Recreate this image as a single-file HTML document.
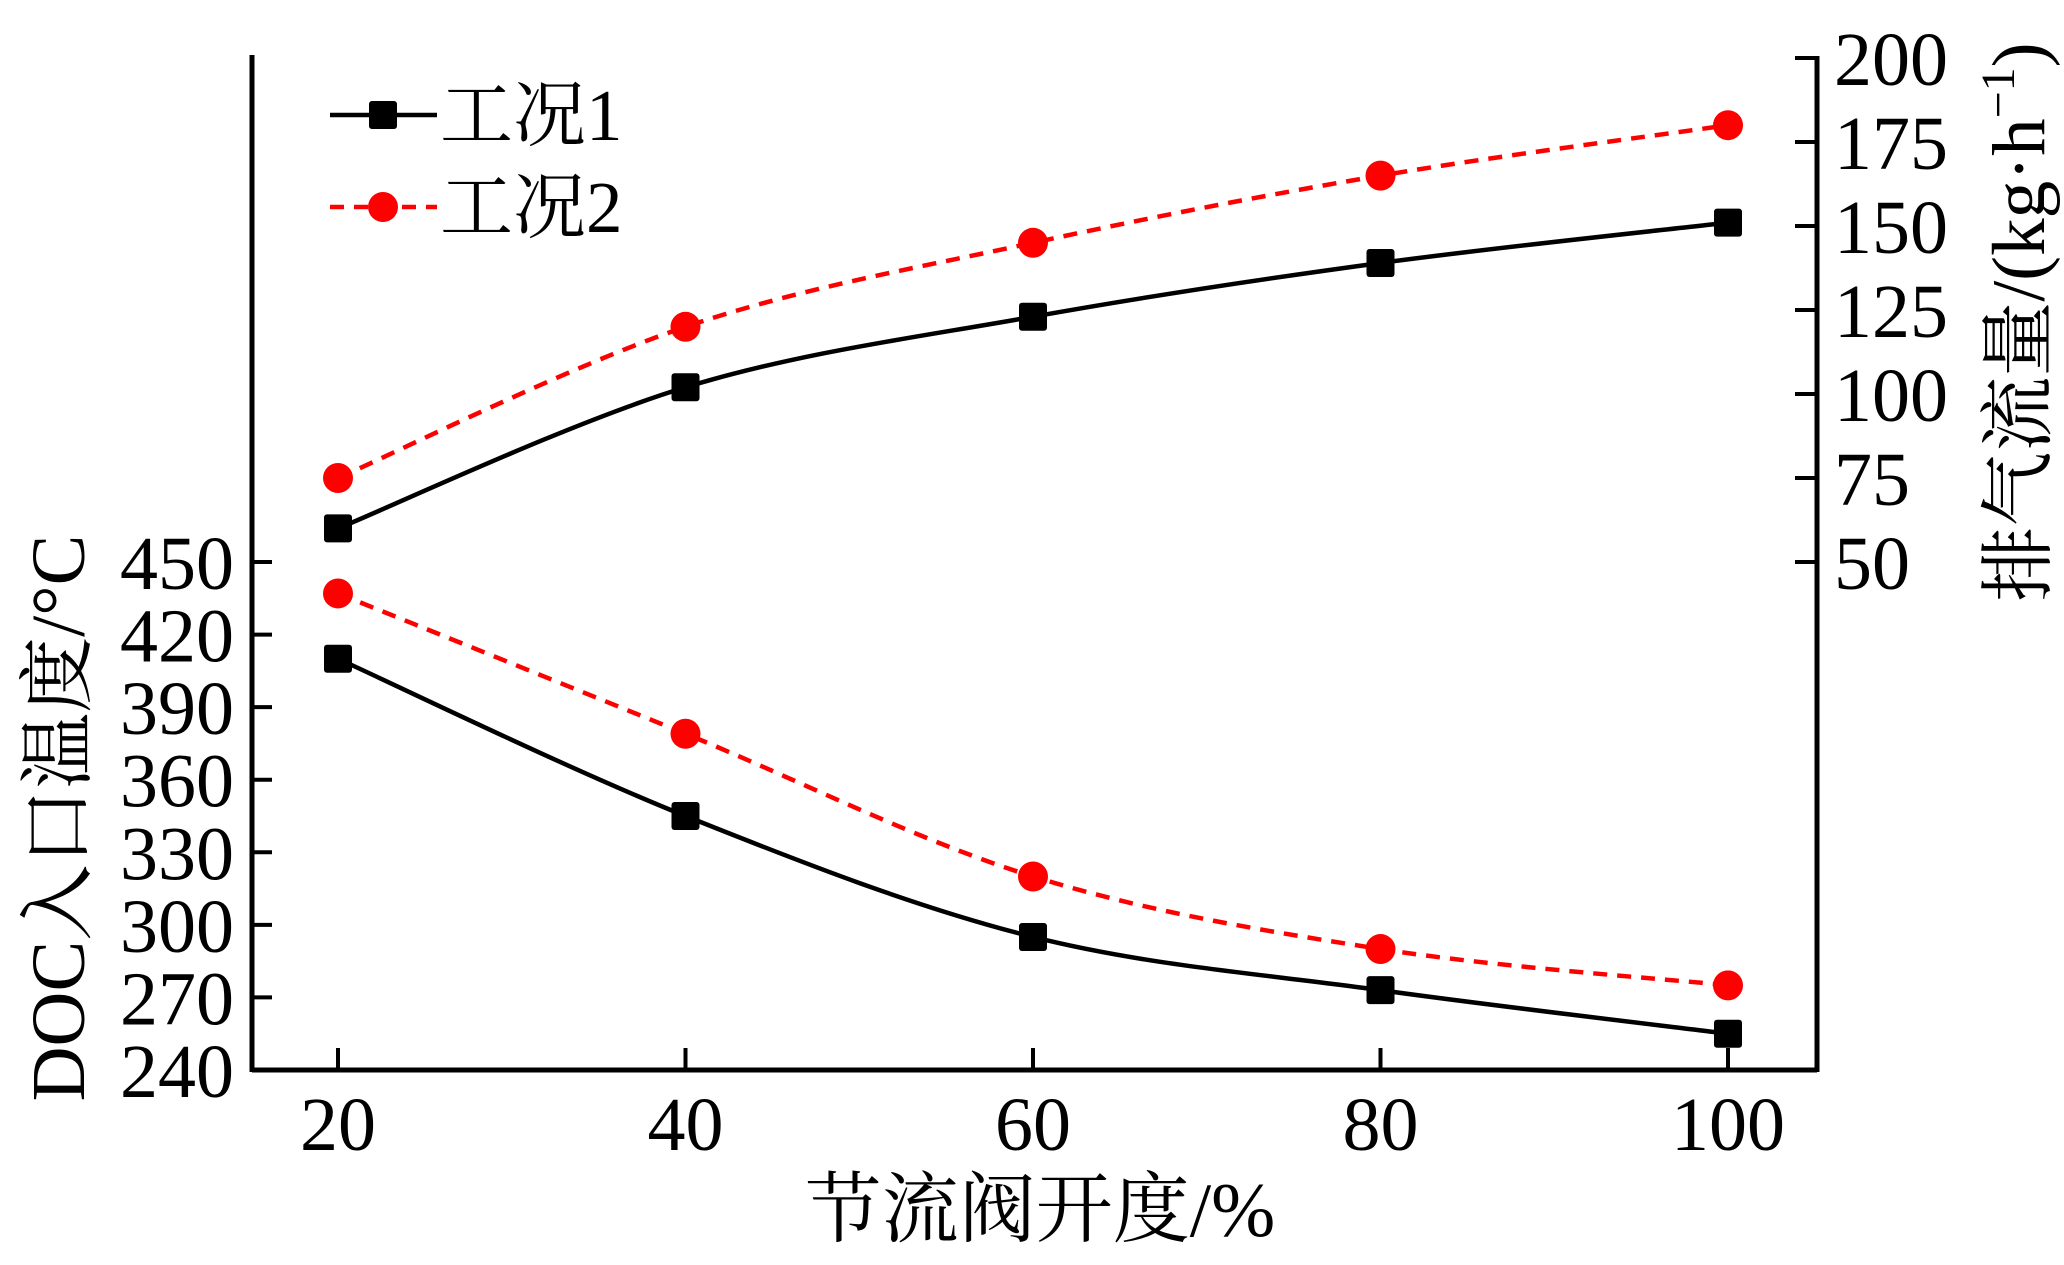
<!DOCTYPE html>
<html><head><meta charset="utf-8"><style>
html,body{margin:0;padding:0;background:#fff;}
svg text{font-family:"Liberation Serif","Noto Serif CJK SC",serif;fill:#000;}
</style></head><body>
<svg id="chart" width="2064" height="1260" viewBox="0 0 2064 1260" xmlns="http://www.w3.org/2000/svg">
<g id="axes"></g>
<g id="series"></g>
<g id="legend">
  <line x1="330" y1="115" x2="437" y2="115" stroke="#000" stroke-width="4.5"/>
  <rect x="369" y="101" width="28" height="28" rx="3" fill="#000"/>
  <text x="440" y="140" font-size="73">工况1</text>
  <line x1="330" y1="207" x2="437" y2="207" stroke="#f00" stroke-width="4.5" stroke-dasharray="14,10"/>
  <circle cx="383" cy="207" r="15" fill="#f00"/>
  <text x="440" y="232" font-size="73">工况2</text>
</g>
<text x="1040" y="1236" font-size="77" text-anchor="middle">节流阀开度/%</text>
<text transform="translate(84,818) rotate(-90)" font-size="76" text-anchor="middle">DOC入口温度/°C</text>
<text transform="translate(2044,322) rotate(-90)" font-size="75" text-anchor="middle">排气流量/(kg·h<tspan font-size="48" dy="-30">−1</tspan><tspan dy="30">)</tspan></text>
</svg>
<script>
const xCats=[20,40,60,80,100];
const flow1=[60,102,123,139,151];
const flow2=[75,120,145,165,180];
const temp1=[410,345,295,273,255];
const temp2=[437,379,320,290,275];
const xTicks=[20,40,60,80,100];
const leftTicks=[240,270,300,330,360,390,420,450];
const rightTicks=[50,75,100,125,150,175,200];

const NS='http://www.w3.org/2000/svg';
const X=v=>338+(v-20)*(1728-338)/80;
const YL=v=>1070-(v-240)*(1070-562)/210;
const YR=v=>562-(v-50)*(562-58)/150;
function mk(tag,attrs,parent){const e=document.createElementNS(NS,tag);for(const k in attrs)e.setAttribute(k,attrs[k]);parent.appendChild(e);return e;}
const axes=document.getElementById('axes');
let e;
e=mk('line',{x1:252,y1:1070,x2:1817,y2:1070,stroke:'#000','stroke-width':5},axes);


e=mk('line',{x1:252,y1:55,x2:252,y2:1072,stroke:'#000','stroke-width':5},axes);


e=mk('line',{x1:1817,y1:56,x2:1817,y2:1072,stroke:'#000','stroke-width':5},axes);


xTicks.forEach(t=>{
  e=mk('line',{x1:X(t),y1:1070,x2:X(t),y2:1048,stroke:'#000','stroke-width':4},axes);
  
  
  e=mk('text',{x:X(t),y:1150,'font-size':76,'text-anchor':'middle'},axes);e.textContent=t;
  
  
});
leftTicks.forEach(t=>{
  e=mk('line',{x1:252,y1:YL(t),x2:272,y2:YL(t),stroke:'#000','stroke-width':4},axes);
  
  
  e=mk('text',{x:234,y:YL(t)+27,'font-size':76,'text-anchor':'end'},axes);e.textContent=t;
  
  
});
rightTicks.forEach(t=>{
  e=mk('line',{x1:1795,y1:YR(t),x2:1817,y2:YR(t),stroke:'#000','stroke-width':4},axes);
  
  
  e=mk('text',{x:1834,y:YR(t)+27,'font-size':76,'text-anchor':'start'},axes);e.textContent=t;
  
  
});
function spline(pts){
  let d='M'+pts[0][0]+','+pts[0][1];
  for(let i=0;i<pts.length-1;i++){
    const p0=pts[Math.max(i-1,0)],p1=pts[i],p2=pts[i+1],p3=pts[Math.min(i+2,pts.length-1)];
    const c1=[p1[0]+(p2[0]-p0[0])/6,p1[1]+(p2[1]-p0[1])/6];
    const c2=[p2[0]-(p3[0]-p1[0])/6,p2[1]-(p3[1]-p1[1])/6];
    d+=' C'+c1+' '+c2+' '+p2;
  }
  return d;
}
const sg=document.getElementById('series');
function draw(vals,Y,color,dash,marker,name){
  const pts=xCats.map((c,i)=>[X(c),Y(vals[i])]);
  const attrs={d:spline(pts),fill:'none',stroke:color,'stroke-width':4.5};
  if(dash)attrs['stroke-dasharray']='14,10';
  const p=mk('path',attrs,sg);
  
  
  pts.forEach(q=>{
    let m;
    if(marker==='square')m=mk('rect',{x:q[0]-14,y:q[1]-14,width:28,height:28,rx:3,fill:color},sg);
    else m=mk('circle',{cx:q[0],cy:q[1],r:15,fill:color},sg);
    
    
  });
}
draw(flow1,YR,'#000',false,'square','flow-case1');
draw(flow2,YR,'#f00',true,'circle','flow-case2');
draw(temp1,YL,'#000',false,'square','temp-case1');
draw(temp2,YL,'#f00',true,'circle','temp-case2');
</script>
</body></html>
